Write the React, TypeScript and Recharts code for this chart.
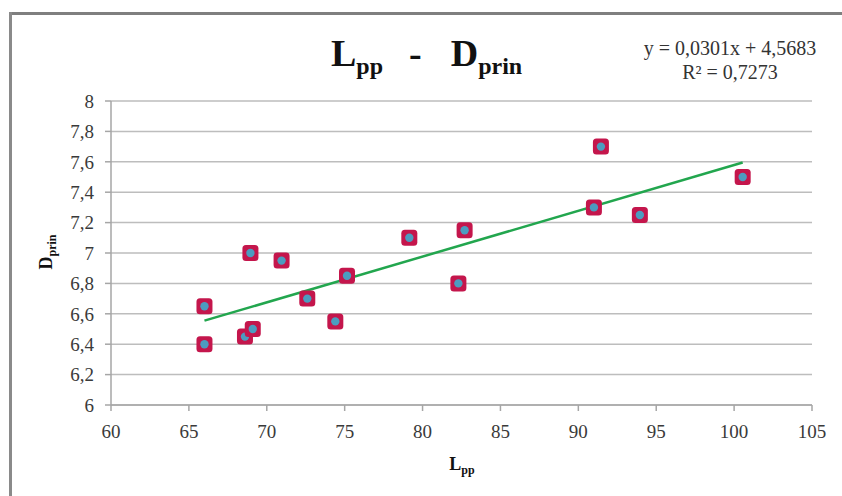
import React from "react";
import {
  ScatterChart,
  Scatter,
  XAxis,
  YAxis,
  CartesianGrid,
  ReferenceLine,
} from "recharts";

const lppValues = [66, 66, 68.6, 69.1, 68.95, 70.95, 72.6, 74.4, 75.15, 79.15, 82.3, 82.7, 91.0, 91.45, 93.95, 100.55];
const dprinValues = [6.65, 6.4, 6.45, 6.5, 7.0, 6.95, 6.7, 6.55, 6.85, 7.1, 6.8, 7.15, 7.3, 7.7, 7.25, 7.5];
const trendX = [66, 100.55];
const trendY = [6.555, 7.595];
const xTicks = [60, 65, 70, 75, 80, 85, 90, 95, 100, 105];
const yTicks = [6, 6.2, 6.4, 6.6, 6.8, 7, 7.2, 7.4, 7.6, 7.8, 8];
const equationText = "y = 0,0301x + 4,5683";
const r2Text = "R² = 0,7273";

const points = lppValues.map((x, i) => ({ x, y: dprinValues[i] }));

const SERIF = "Liberation Serif, Times New Roman, DejaVu Serif, serif";

const Marker = (props: any) => {
  const { cx, cy } = props;
  if (cx == null || cy == null) return <g />;
  return (
    <g>
      <rect x={cx - 8} y={cy - 8} width={16} height={16} rx={3.5} ry={3.5} fill="#c4164c" />
      <circle cx={cx} cy={cy} r={4.2} fill="#4c9cc0" />
    </g>
  );
};

const fmt = (v: number) => String(Math.round(v * 10) / 10).replace(".", ",");

const tickStyle = { fill: "#3a3a3a", fontSize: 19, fontFamily: SERIF };

export default function App() {
  return (
    <div style={{ position: "absolute", left: 0, top: 0, width: 842, height: 496, background: "#fff", overflow: "hidden", fontFamily: SERIF }}>
      {/* frame */}
      <div style={{ position: "absolute", left: 9, top: 12, width: 833, height: 3, background: "#7f7f7f" }} />
      <div style={{ position: "absolute", left: 9, top: 12, width: 3, height: 484, background: "#8a8a8a" }} />

      <div style={{ position: "absolute", left: 0, top: 0, fontFamily: SERIF }}>
        <ScatterChart width={842} height={496} margin={{ top: 101, right: 30, bottom: 61, left: 51 }} style={{ fontFamily: SERIF }}>
          <CartesianGrid horizontal vertical={false} stroke="#bdbdbd" strokeWidth={1.5} />
          <XAxis
            type="number"
            dataKey="x"
            domain={[60, 105]}
            ticks={xTicks}
            allowDataOverflow
            height={30}
            tickSize={6}
            tickMargin={14}
            axisLine={{ stroke: "#a6a6a6", strokeWidth: 1.5 }}
            tickLine={{ stroke: "#a6a6a6", strokeWidth: 1.5 }}
            tick={tickStyle}
          />
          <YAxis
            type="number"
            dataKey="y"
            domain={[6, 8]}
            ticks={yTicks}
            allowDataOverflow
            width={60}
            tickSize={6}
            tickMargin={11}
            tickFormatter={fmt}
            axisLine={{ stroke: "#a6a6a6", strokeWidth: 1.5 }}
            tickLine={{ stroke: "#a6a6a6", strokeWidth: 1.5 }}
            tick={tickStyle}
          />
          <ReferenceLine
            segment={[
              { x: trendX[0], y: trendY[0] },
              { x: trendX[1], y: trendY[1] },
            ]}
            stroke="#22a64e"
            strokeWidth={2.5}
            ifOverflow="visible"
          />
          <Scatter data={points} shape={Marker} isAnimationActive={false} />
        </ScatterChart>
      </div>

      {/* title */}
      <div style={{ position: "absolute", left: 331, top: 34, fontWeight: "bold", fontSize: 38, color: "#111", whiteSpace: "nowrap", lineHeight: 1 }}>
        L<sub style={{ fontSize: 24, verticalAlign: "-8px" }}>pp</sub>
        <span style={{ display: "inline-block", width: 26 }} />-
        <span style={{ display: "inline-block", width: 29 }} />D
        <sub style={{ fontSize: 24, verticalAlign: "-8px" }}>prin</sub>
      </div>

      {/* equation */}
      <div style={{ position: "absolute", left: 630, top: 36, width: 200, textAlign: "center", fontSize: 20, color: "#333", lineHeight: "24px", whiteSpace: "nowrap" }}>
        <div>{equationText}</div>
        <div>{r2Text}</div>
      </div>

      {/* y axis label */}
      <div style={{ position: "absolute", left: 47, top: 252, transform: "translate(-50%, -50%) rotate(-90deg)", fontWeight: "bold", fontSize: 18, color: "#111", whiteSpace: "nowrap", lineHeight: 1 }}>
        D<sub style={{ fontSize: 12, verticalAlign: "-4px" }}>prin</sub>
      </div>

      {/* x axis label */}
      <div style={{ position: "absolute", left: 462, top: 465, transform: "translate(-50%, -50%)", fontWeight: "bold", fontSize: 18, color: "#111", whiteSpace: "nowrap", lineHeight: 1 }}>
        L<sub style={{ fontSize: 12, verticalAlign: "-4px" }}>pp</sub>
      </div>
    </div>
  );
}
